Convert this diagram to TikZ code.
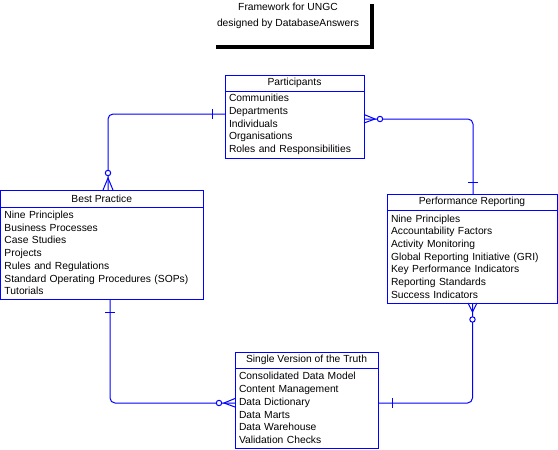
\documentclass[tikz,border=0pt]{standalone}
\usepackage{fontspec}
\setmainfont{Liberation Sans}
\usetikzlibrary{positioning,calc}
\definecolor{erblue}{RGB}{0,0,255}

\tikzset{
  enthead/.style={draw=erblue, line width=1pt, outer sep=0pt, inner sep=0pt,
    anchor=north west, minimum height=16pt, font=\fontsize{10.3}{12.7}\selectfont},
  entbody/.style={draw=erblue, line width=1pt, outer sep=0pt, inner xsep=4pt,
    inner ysep=0pt, align=left, anchor=north, font=\fontsize{10.3}{12.7}\selectfont},
  rel/.style={draw=erblue, line width=1pt, rounded corners=5pt},
  endmark/.style={draw=erblue, line width=1pt},
}

\begin{document}
\begin{tikzpicture}[x=1pt, y=-1pt]

		\useasboundingbox (0,0) rectangle (558,450);
		
		\node[align=center, font=\fontsize{10.3}{16}\selectfont] (title) at (288,16) {Framework for UNGC\\designed by DatabaseAnswers};
		\draw[line width=4pt] (216,47.3) -- (372,47.3) -- (372,4);
		
		\node[enthead, minimum width=139pt] (partHead) at (225,75) {Participants};
		\node[entbody, text width=131pt, minimum height=67pt, below=0pt of partHead] (partBody) {Communities\\Departments\\Individuals\\Organisations\\Roles and Responsibilities};
		
		\node[enthead, minimum width=202.5pt, minimum height=17pt] (bestHead) at (0.5,190) {Best Practice};
		\node[entbody, text width=194.5pt, minimum height=92pt, below=0pt of bestHead] (bestBody) {Nine Principles\\Business Processes\\Case Studies\\Projects\\Rules and Regulations\\Standard Operating Procedures (SOPs)\\Tutorials};
		
		\node[enthead, minimum width=170pt] (perfHead) at (387,194) {Performance Reporting};
		\node[entbody, text width=162pt, minimum height=93pt, below=0pt of perfHead] (perfBody) {Nine Principles\\Accountability Factors\\Activity Monitoring\\Global Reporting Initiative (GRI)\\Key Performance Indicators\\Reporting Standards\\Success Indicators};
		
		\node[enthead, minimum width=143pt] (singHead) at (235,352) {Single Version of the Truth};
		\node[entbody, text width=135pt, minimum height=80pt, below=0pt of singHead] (singBody) {Consolidated Data Model\\Content Management\\Data Dictionary\\Data Marts\\Data Warehouse\\Validation Checks};
		
		% connector ends
		\coordinate (partL) at ([yshift=-23pt]partBody.north west);
		\coordinate (partR) at ([yshift=-28pt]partBody.north east);
		\coordinate (bestT) at ([xshift=107.5pt]bestHead.north west);
		\coordinate (bestB) at ([xshift=109.5pt]bestBody.south west);
		\coordinate (perfT) at ([xshift=86pt]perfHead.north west);
		\coordinate (perfB) at ([xshift=85.5pt]perfBody.south west);
		\coordinate (singL) at ([yshift=-35pt]singBody.north west);
		\coordinate (singR) at ([yshift=-35pt]singBody.north east);
		
		\draw[rel] (partL) -| (bestT);
		\draw[rel] (partR) -| (perfT);
		\draw[rel] (perfB) |- (singR);
		\draw[rel] (bestB) |- (singL);
		
		% one
		\draw[endmark] ([shift={(-13pt,-5pt)}]partL) -- ([shift={(-13pt,5pt)}]partL);
		\draw[endmark] ([shift={(-5pt,12pt)}]perfT) -- ([shift={(5pt,12pt)}]perfT);
		\draw[endmark] ([shift={(14pt,5pt)}]singR) -- ([shift={(14pt,-5pt)}]singR);
		\draw[endmark] ([shift={(-5pt,-13pt)}]bestB) -- ([shift={(5pt,-13pt)}]bestB);
		
		% zero or many
		\draw[endmark] ([xshift=-5pt]bestT) -- ([yshift=12pt]bestT) -- ([xshift=5pt]bestT);
		\draw[endmark, fill=white] ([yshift=17pt]bestT) circle (2.7pt);
		\draw[endmark] ([yshift=4.5pt]partR) -- ([xshift=11pt]partR) -- ([yshift=-4pt]partR);
		\draw[endmark, fill=white] ([xshift=16pt]partR) circle (2.7pt);
		\draw[endmark] ([xshift=-4.5pt]perfB) -- ([yshift=-9pt]perfB) -- ([xshift=4.5pt]perfB);
		\draw[endmark, fill=white] ([yshift=-16.5pt]perfB) circle (2.7pt);
		\draw[endmark] ([yshift=4.5pt]singL) -- ([xshift=-11pt]singL) -- ([yshift=-4pt]singL);
		\draw[endmark, fill=white] ([xshift=-16pt]singL) circle (2.7pt);
		
	\end{tikzpicture}
\end{document}
